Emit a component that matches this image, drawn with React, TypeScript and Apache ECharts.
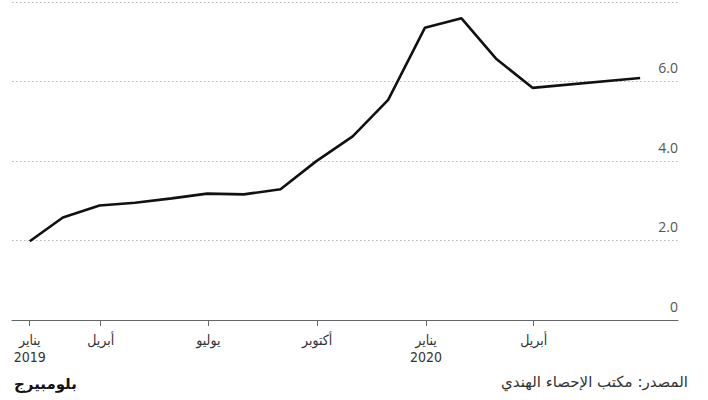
import React, { useEffect, useRef } from "react";
import * as echarts from "echarts";

const monthEnds: string[] = [
  "2019-01-31", "2019-02-28", "2019-03-31", "2019-04-30", "2019-05-31", "2019-06-30",
  "2019-07-31", "2019-08-31", "2019-09-30", "2019-10-31", "2019-11-30", "2019-12-31",
  "2020-01-31", "2020-02-29", "2020-03-31", "2020-06-30",
];
const inflation: number[] = [
  1.98, 2.58, 2.88, 2.95, 3.06, 3.18, 3.16, 3.29, 3.99, 4.62, 5.54, 7.35,
  7.59, 6.58, 5.84, 6.09,
];
const tickDates: string[] = ["2019-01-31", "2019-04-01", "2019-07-01", "2019-10-01", "2020-01-01", "2020-04-01"];
const tickLabels: string[] = ["يناير\n2019", "أبريل", "يوليو", "أكتوبر", "يناير\n2020", "أبريل"];
const yTicks: number[] = [0, 2, 4, 6, 8];
const sourceText = "المصدر: مكتب الإحصاء الهندي";
const brandText = "بلومبيرج";

const toTs = (s: string) => {
  const [y, m, d] = s.split("-").map(Number);
  return Date.UTC(y, m - 1, d);
};

export default function App() {
  const ref = useRef<HTMLDivElement>(null);
  useEffect(() => {
    document.body.style.margin = "0";
    if (!ref.current) return;
    const chart = echarts.init(ref.current, undefined, { renderer: "svg" });
    const tickTs = tickDates.map(toTs);
    chart.setOption({
      animation: false,
      backgroundColor: "#ffffff",
      grid: { left: 12, right: 30, top: 2, bottom: 80, containLabel: false, outerBoundsMode: "none" },
      xAxis: {
        type: "value",
        min: toTs("2019-01-16"),
        max: toTs("2020-08-01"),
        axisLine: { show: true, onZero: false, lineStyle: { color: "#666", width: 1 } },
        axisTick: { show: true, length: 6, lineStyle: { color: "#666" }, customValues: tickTs },
        splitLine: { show: false },
        axisLabel: {
          customValues: tickTs,
          margin: 11,
          fontSize: 14,
          lineHeight: 17,
          color: "#333",
          fontFamily: "DejaVu Sans Condensed, DejaVu Sans, sans-serif",
          formatter: (v: number) => {
            let best = 0;
            let bd = Infinity;
            tickTs.forEach((t, i) => {
              const d = Math.abs(t - v);
              if (d < bd) { bd = d; best = i; }
            });
            return tickLabels[best];
          },
        },
      },
      yAxis: {
        type: "value",
        position: "right",
        min: yTicks[0],
        max: yTicks[yTicks.length - 1],
        interval: 2,
        axisLine: { show: false },
        axisTick: { show: false },
        splitLine: { show: true, lineStyle: { color: "#b5b5b5", type: [1.5, 2.5], width: 1 } },
        axisLabel: {
          inside: true,
          margin: 0,
          showMaxLabel: false,
          verticalAlign: "bottom",
          padding: [0, 0, 7, 0],
          fontSize: 14,
          color: "#555",
          fontFamily: "Open Sans, sans-serif",
          formatter: (v: number) => (v === 8 ? "" : v === 0 ? "0" : v.toFixed(1)),
        },
      },
      series: [
        {
          type: "line",
          data: monthEnds.map((d, i) => [toTs(d), inflation[i]]),
          showSymbol: false,
          symbol: "none",
          lineStyle: { color: "#111", width: 2.6 },
          z: 5,
        },
      ],
      graphic: [
        {
          type: "text",
          right: 20,
          top: 374,
          style: {
            text: sourceText,
            fontSize: 15,
            fill: "#333",
            fontFamily: "DejaVu Sans, sans-serif",
          },
        },
        {
          type: "text",
          left: 14,
          top: 376,
          style: {
            text: brandText,
            fontSize: 15,
            fontWeight: "bold",
            fill: "#111",
            fontFamily: "DejaVu Sans, sans-serif",
          },
        },
      ],
    });
    return () => chart.dispose();
  }, []);
  return <div ref={ref} style={{ position: "fixed", left: 0, top: 0, width: 708, height: 400 }} />;
}
